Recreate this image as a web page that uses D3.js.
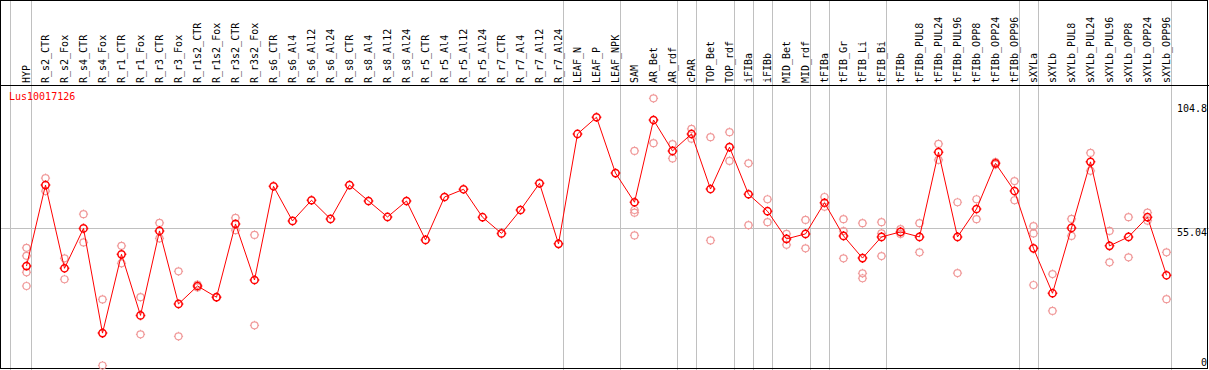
<!DOCTYPE html>
<html>
<head>
<meta charset="utf-8">
<script src="https://cdn.jsdelivr.net/npm/d3@7"></script>
<style>
  body { margin: 0; background: #fff; }
  svg text { font-family: "DejaVu Sans Mono", monospace; font-size: 10px; }
</style>
</head>
<body>
<svg width="1209" height="370"></svg>
<script>
// nombres de las columnas
const columnas = ["HYP", "R_s2_CTR", "R_s2_Fox", "R_s4_CTR", "R_s4_Fox", "R_r1_CTR", "R_r1_Fox",
  "R_r3_CTR", "R_r3_Fox", "R_r1s2_CTR", "R_r1s2_Fox", "R_r3s2_CTR", "R_r3s2_Fox", "R_s6_CTR",
  "R_s6_Al4", "R_s6_Al12", "R_s6_Al24", "R_s8_CTR", "R_s8_Al4", "R_s8_Al12", "R_s8_Al24",
  "R_r5_CTR", "R_r5_Al4", "R_r5_Al12", "R_r5_Al24", "R_r7_CTR", "R_r7_Al4", "R_r7_Al12", "R_r7_Al24",
  "LEAF_N", "LEAF_P", "LEAF_NPK", "SAM", "AR_Bet", "AR_rdf", "cPAR", "TOP_Bet", "TOP_rdf",
  "iFIBa", "iFIBb", "MID_Bet", "MID_rdf", "tFIBa", "tFIB_Gr", "tFIB_Li", "tFIB_Bi", "tFIBb",
  "tFIBb_PUL8", "tFIBb_PUL24", "tFIBb_PUL96", "tFIBb_OPP8", "tFIBb_OPP24", "tFIBb_OPP96",
  "sXYLa", "sXYLb", "sXYLb_PUL8", "sXYLb_PUL24", "sXYLb_PUL96", "sXYLb_OPP8", "sXYLb_OPP24", "sXYLb_OPP96"];

// media de cada columna
const medias = [39.9, 72.4, 39.0, 55.0, 13.0, 44.6, 20.1, 54.0, 24.7, 31.9, 27.4, 56.8, 34.3, 71.9,
  58.0, 66.3, 58.8, 72.4, 66.0, 59.6, 66.0, 50.4, 67.6, 70.7, 59.5, 53.0, 62.4, 73.1, 48.8,
  92.9, 99.6, 77.2, 65.5, 98.5, 86.1, 92.9, 70.8, 87.6, 68.7, 61.9, 50.8, 52.8, 65.3, 52.0,
  43.1, 51.6, 53.6, 51.6, 85.6, 51.6, 62.8, 81.1, 70.0, 47.0, 29.0, 55.2, 81.7, 48.0, 51.6,
  59.5, 36.2];

// replicas de cada columna
const replicas = [
  [47.2, 44.0, 37.4, 31.9], [75.2, 70.0], [43.0, 34.6], [60.7, 49.4], [26.5, 0],
  [48.0, 41.0], [27.4, 12.5], [57.2, 51.0], [37.8, 11.7], [32.5, 31.3], [27.4, 27.4],
  [59.2, 54.3], [52.4, 16.1], [], [], [], [], [], [], [], [], [], [], [], [], [], [], [], [],
  [], [], [], [86.1, 62.4, 61.3, 52.2], [107.2, 89.2], [88.8, 83.1], [94.9, 91.0],
  [91.6, 50.2], [93.6, 82.1], [81.1, 56.3], [66.7, 57.5], [52.8, 48.4], [58.4, 47.0],
  [67.6, 63.7], [58.7, 53.9, 43.0], [57.1, 37.0, 35.0], [57.5, 53.0, 43.9], [54.7, 52.8],
  [57.1, 45.4], [88.9, 82.5], [65.5, 37.1], [66.7, 58.7], [81.6, 80.6], [74.0, 66.3],
  [55.9, 53.0, 32.3], [36.7, 21.9], [58.8, 52.0], [85.3, 78.1], [54.0, 41.4], [59.5, 43.4],
  [61.3, 58.1], [45.4, 26.6]
];

// separadores de grupos (despues de la columna i)
const separadores = [0, 28, 31, 34, 35, 37, 38, 39, 41, 42, 45, 52, 53, 60];
const marcas = [104.8, 55.04, 0];
const titulo = "Lus10017126";

const svg = d3.select("svg");
const W = 1209, H = 370;
const cabecera = 85;
const bordeIzq = 10; // linea gris del borde izquierdo del area

const x = d3.scaleLinear().domain([0, columnas.length - 1]).range([26.5, 1166.5]);
const y = d3.scaleLinear().domain([0, 104.8]).range([365.5, 104.3]);

// lineas verticales grises
const posSep = [bordeIzq].concat(separadores.map(d => Math.floor(x(d) + 4.5)));
svg.selectAll(".sep")
  .data(posSep)
  .enter()
  .append("line")
  .attr("x1", d => d + 0.5)
  .attr("x2", d => d + 0.5)
  .attr("y1", 0)
  .attr("y2", H)
  .attr("stroke", "#c0c0c0");

// linea horizontal de 55.04
svg.append("line")
  .attr("x1", 0).attr("x2", W)
  .attr("y1", Math.round(y(55.04)) + 0.5)
  .attr("y2", Math.round(y(55.04)) + 0.5)
  .attr("stroke", "#c0c0c0");

// marco
svg.append("rect")
  .attr("x", 0.5).attr("y", 0.5)
  .attr("width", W - 2).attr("height", H - 2)
  .attr("fill", "none")
  .attr("stroke", "black");
svg.append("line")
  .attr("x1", 0).attr("x2", W)
  .attr("y1", cabecera + 0.5).attr("y2", cabecera + 0.5)
  .attr("stroke", "black");

// nombres de columnas giradas
svg.selectAll(".col")
  .data(columnas)
  .enter()
  .append("text")
  .attr("transform", (d, i) => `translate(${x(i) + 3},83) rotate(-90)`)
  .attr("fill", "black")
  .text(d => d);

// etiquetas del eje derecho
svg.selectAll(".marca")
  .data(marcas)
  .enter()
  .append("text")
  .attr("x", 1207)
  .attr("y", d => Math.min(y(d), 358) + 8)
  .attr("text-anchor", "end")
  .attr("fill", "black")
  .text(d => d);

svg.append("text")
  .attr("x", 9)
  .attr("y", 100)
  .attr("fill", "red")
  .text(titulo);

// marcador circular con pequeñas cruces
function marcador(r, e) {
  return `M${-r},0A${r},${r} 0 1,0 ${r},0A${r},${r} 0 1,0 ${-r},0` +
    `M0,${-r}V${-e}M0,${r}V${e}M${-r},0H${-e}M${r},0H${e}`;
}

const puntosRep = [];
replicas.forEach((lista, i) => lista.forEach(v => puntosRep.push({ i: i, v: v })));

svg.selectAll(".rep")
  .data(puntosRep)
  .enter()
  .append("path")
  .attr("transform", d => `translate(${x(d.i)},${y(d.v)})`)
  .attr("d", marcador(3.5, 4.6))
  .attr("fill", "none")
  .attr("stroke", "#f09a9a")
  .attr("stroke-width", 1.2);

const linea = d3.line()
  .x((d, i) => x(i))
  .y(d => y(d));

svg.append("path")
  .datum(medias)
  .attr("d", linea)
  .attr("fill", "none")
  .attr("stroke", "red")
  .attr("stroke-width", 1);

svg.selectAll(".media")
  .data(medias)
  .enter()
  .append("path")
  .attr("transform", (d, i) => `translate(${x(i)},${y(d)})`)
  .attr("d", marcador(3.6, 4.8))
  .attr("fill", "none")
  .attr("stroke", "red")
  .attr("stroke-width", 1.5);
</script>
</body>
</html>
